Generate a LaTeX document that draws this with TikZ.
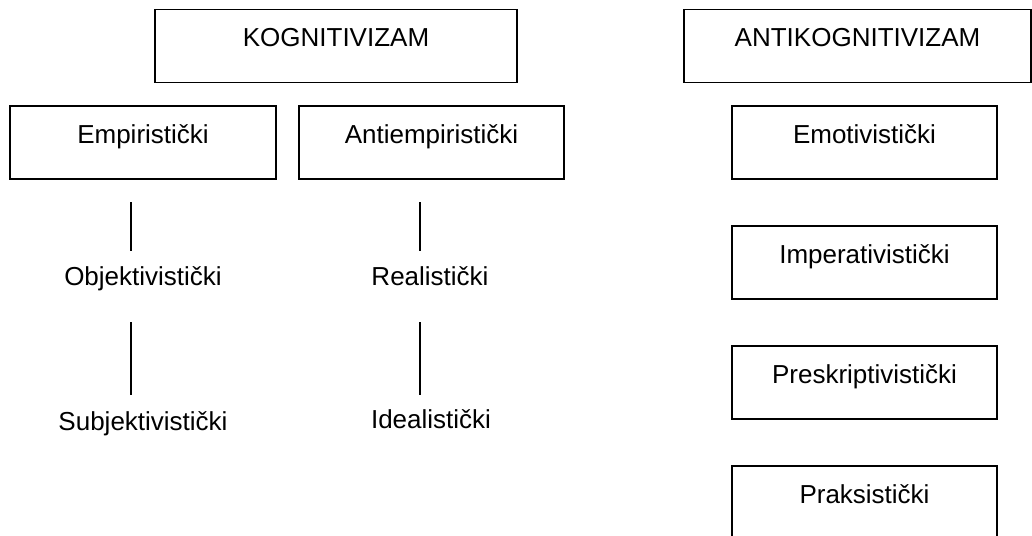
\documentclass[tikz,border=0pt]{standalone}
\usepackage{fontspec}
\setmainfont{Liberation Sans}
\begin{document}
\begin{tikzpicture}[x=1pt,y=-1pt,
  every node/.style={font=\fontsize{26}{31}\selectfont},
  bx/.style={draw,line width=1.3pt,inner sep=0pt,text height=37pt,text depth=36pt,minimum height=73pt},
  lbl/.style={anchor=base,inner sep=0pt},
  ln/.style={line width=1.3pt}]
\useasboundingbox (0,0) rectangle (1032,535);
\clip (0,0) rectangle (1032,535);
% left group
\node[bx,minimum width=362pt] (kog) at (336,46) {KOGNITIVIZAM};
\node[bx,minimum width=266pt] (emp) at (143,142.5) {Empiristički};
\node[bx,minimum width=265pt] (aemp) at (431.5,142.5) {Antiempiristički};
\node[lbl] (obj) at (143,285) {Objektivistički};
\node[lbl] (subj) at (143,430) {Subjektivistički};
\node[lbl] (real) at (430,285) {Realistički};
\node[lbl] (ideal) at (431,428) {Idealistički};
\coordinate (l1a) at (131,202);
\coordinate (l1b) at (131,251);
\coordinate (l2a) at (131,322);
\coordinate (l2b) at (131,395);
\coordinate (r1a) at (420,202);
\coordinate (r1b) at (420,251);
\coordinate (r2a) at (420,322);
\coordinate (r2b) at (420,395);
\draw[ln] (l1a) -- (l1b);
\draw[ln] (l2a) -- (l2b);
\draw[ln] (r1a) -- (r1b);
\draw[ln] (r2a) -- (r2b);
% right group
\node[bx,minimum width=347pt] (akog) at (857.5,46) {ANTIKOGNITIVIZAM};
\node[bx,minimum width=265pt] (emo) at (864.5,142.5) {Emotivistički};
\node[bx,minimum width=265pt] (imp) at (864.5,262.5) {Imperativistički};
\node[bx,minimum width=265pt] (pres) at (864.5,382.5) {Preskriptivistički};
\node[bx,minimum width=265pt] (prak) at (864.5,502.5) {Praksistički};
\end{tikzpicture}
\end{document}
